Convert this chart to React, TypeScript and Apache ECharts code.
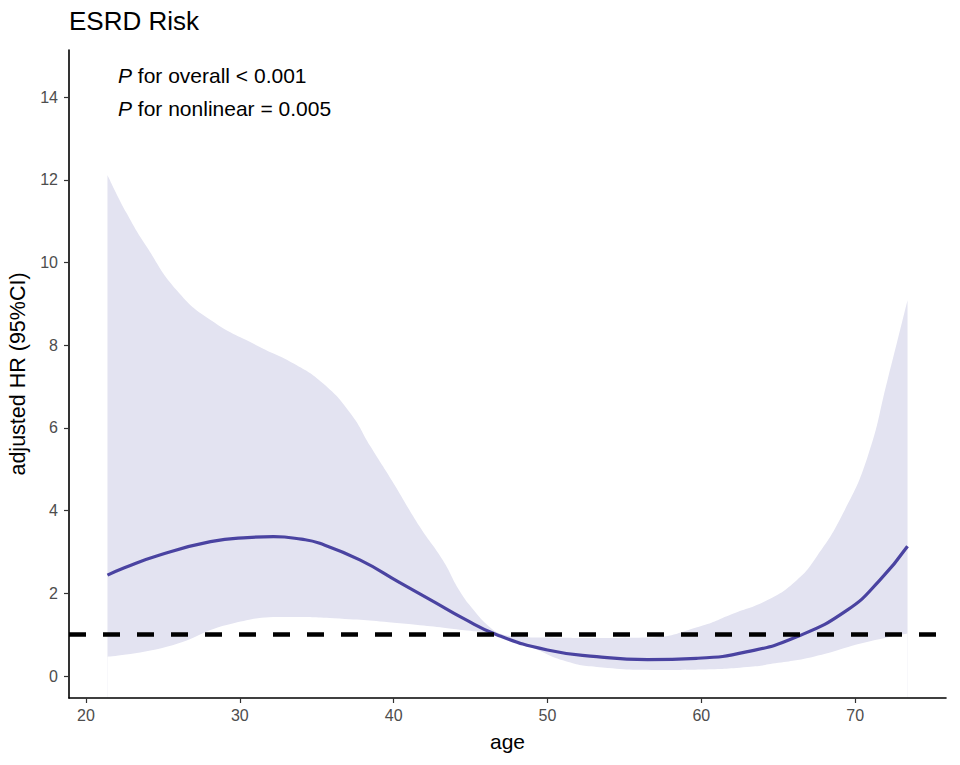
import React, { useEffect, useRef } from "react";
import * as echarts from "echarts";

const titleText = "ESRD Risk";
const annot1 = "for overall < 0.001";
const annot2 = "for nonlinear = 0.005";
const xTicks = [20, 30, 40, 50, 60, 70];
const yTicks = [0, 2, 4, 6, 8, 10, 12, 14];

const lineAge = [21.4, 22.5, 24.8, 28.1, 30.5, 32.2, 34, 35.2, 37.8, 40.4, 42.6, 44.5, 46.7, 50, 53.2, 56.5, 59.7, 63, 66.2, 69.5, 71.6, 73.4];
const lineHR = [2.44, 2.62, 2.93, 3.25, 3.35, 3.37, 3.31, 3.21, 2.81, 2.26, 1.8, 1.4, 1.0, 0.63, 0.47, 0.4, 0.43, 0.59, 0.95, 1.6, 2.32, 3.14];

const upperAge = [21.4, 22.65, 23.95, 25.9, 28.1, 31.3, 33.5, 35.4, 37.2, 38.5, 40.0, 41.7, 43.2, 44.3, 45.2, 46.2, 47, 48, 50, 53, 56.5, 59.9, 62, 64.3, 66.2, 67.5, 69.2, 70.8, 72.1, 73.4];
const upperHR = [12.12, 11.19, 10.38, 9.33, 8.61, 7.96, 7.56, 7.08, 6.35, 5.55, 4.66, 3.61, 2.8, 2.05, 1.6, 1.2, 1.02, 0.96, 0.93, 0.92, 0.93, 1.2, 1.5, 1.84, 2.32, 2.89, 3.93, 5.3, 7.16, 9.09];

const lowerAge = [21.4, 25.25, 29.6, 33.3, 36.1, 40.4, 44.8, 47, 48.9, 51, 53.2, 57.5, 60, 63, 65, 67.3, 70.5, 73.4];
const lowerHR = [0.47, 0.71, 1.28, 1.43, 1.4, 1.28, 1.1, 0.98, 0.71, 0.38, 0.22, 0.15, 0.16, 0.22, 0.32, 0.47, 0.8, 1.03];

const refHR = 1;

const zip = (a: number[], b: number[]) => a.map((v, i) => [v, b[i]]);

export default function App() {
  const ref = useRef<HTMLDivElement>(null);
  useEffect(() => {
    if (!ref.current) return;
    document.body.style.margin = "0";
    const chart = echarts.init(ref.current, null, { renderer: "svg" });
    const font = "'Liberation Sans', Arial, Helvetica, sans-serif";
    const bandColor = "#e3e3f1";
    chart.setOption({
      animation: false,
      backgroundColor: "#ffffff",
      grid: { left: 69, right: 14, top: 50, bottom: 67, containLabel: false, outerBoundsMode: "none" },
      xAxis: {
        type: "value",
        min: 18.9,
        max: 75.9,
        z: 10,
        name: "age",
        nameLocation: "middle",
        nameGap: 33,
        nameTextStyle: { fontFamily: font, fontSize: 21, color: "#000" },
        axisLine: { show: true, onZero: false, lineStyle: { color: "#000", width: 1.6 } },
        axisTick: { show: true, length: 5, lineStyle: { color: "#333", width: 1.2 }, customValues: xTicks },
        axisLabel: { fontFamily: font, fontSize: 16, color: "#4d4d4d", margin: 9, customValues: xTicks },
        splitLine: { show: false },
      },
      yAxis: {
        type: "value",
        min: -0.53,
        max: 15.14,
        z: 10,
        name: "adjusted HR (95%CI)",
        nameLocation: "middle",
        nameGap: 37,
        nameTextStyle: { fontFamily: font, fontSize: 21.5, color: "#000" },
        axisLine: { show: true, onZero: false, lineStyle: { color: "#000", width: 1.6 } },
        axisTick: { show: true, length: 5, lineStyle: { color: "#333", width: 1.2 }, customValues: yTicks },
        axisLabel: { fontFamily: font, fontSize: 16, color: "#4d4d4d", margin: 11, customValues: yTicks },
        splitLine: { show: false },
      },
      graphic: [
        {
          type: "text",
          left: 69,
          top: 8,
          style: { text: titleText, fontFamily: font, fontSize: 26, fill: "#000" },
        },
        {
          type: "text",
          left: 118,
          top: 65,
          style: {
            text: "{i|P} " + annot1,
            fontFamily: font,
            fontSize: 21,
            fill: "#000",
            rich: { i: { fontStyle: "italic", fontFamily: font, fontSize: 21, fill: "#000" } },
          },
        },
        {
          type: "text",
          left: 118,
          top: 98,
          style: {
            text: "{i|P} " + annot2,
            fontFamily: font,
            fontSize: 21,
            fill: "#000",
            rich: { i: { fontStyle: "italic", fontFamily: font, fontSize: 21, fill: "#000" } },
          },
        },
      ],
      series: [
        {
          type: "line",
          data: zip(upperAge, upperHR),
          smooth: 0.5,
          symbol: "none",
          lineStyle: { width: 0, opacity: 0 },
          areaStyle: { color: bandColor, opacity: 1, origin: "start" },
          silent: true,
        },
        {
          type: "line",
          data: zip(lowerAge, lowerHR),
          smooth: 0.5,
          symbol: "none",
          lineStyle: { width: 0, opacity: 0 },
          areaStyle: { color: "#ffffff", opacity: 1, origin: "start" },
          silent: true,
        },
        {
          type: "line",
          data: zip(lineAge, lineHR),
          smooth: 0.5,
          symbol: "none",
          lineStyle: { color: "#4a43a1", width: 3.2 },
          markLine: {
            silent: true,
            symbol: "none",
            label: { show: false },
            lineStyle: { color: "#000", width: 4.5, type: [17, 17] },
            data: [{ yAxis: refHR }],
          },
        },
      ],
    });
    return () => chart.dispose();
  }, []);
  return <div ref={ref} style={{ width: 960, height: 765 }} />;
}
